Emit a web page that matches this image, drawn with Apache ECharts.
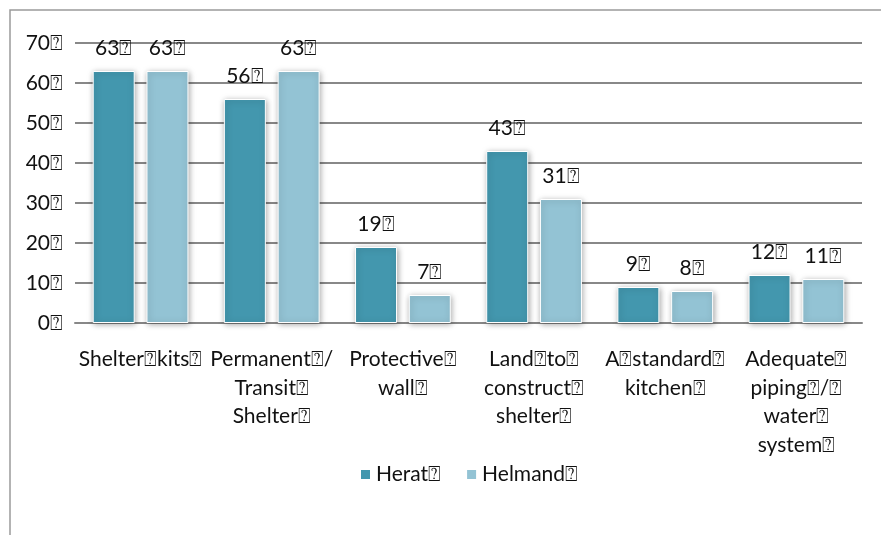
<!DOCTYPE html>
<html><head><meta charset="utf-8">
<script src="https://cdn.jsdelivr.net/npm/echarts@6/dist/echarts.min.js"></script>
<style>html,body{margin:0;padding:0;background:#fff}#c{width:881px;height:535px}</style>
</head><body><div id="c"></div>
<script>
const B = '\u2370';
const categories = ['Shelter'+B+'kits'+B, 'Permanent'+B+'/\nTransit'+B+'\nShelter'+B, 'Protective'+B+'\nwall'+B, 'Land'+B+'to'+B+'\nconstruct'+B+'\nshelter'+B, 'A'+B+'standard'+B+'\nkitchen'+B, 'Adequate'+B+'\npiping'+B+'/'+B+'\nwater'+B+'\nsystem'+B];
const seriesNames = ['Herat', 'Helmand'];
const herat = [63, 56, 19, 43, 9, 12];
const helmand = [63, 63, 7, 31, 8, 11];
const yTicks = [0, 10, 20, 30, 40, 50, 60, 70];

const font = 'Lato, "Open Sans", sans-serif';
const FS = 21;
const chart = echarts.init(document.getElementById('c'));
const labelCfg = {show:true, position:'top', distance:12, color:'#111', fontSize:FS, fontFamily:font, formatter: p => p.value + B};
function mk(name, data, color){
  return {name: name + B, type:'bar', data, barWidth:42, barGap:'28%',
    itemStyle:{color, borderColor:'#fff', borderWidth:1, shadowBlur:6, shadowColor:'rgba(0,0,0,0.35)', shadowOffsetX:1, shadowOffsetY:1},
    label: labelCfg};
}
chart.setOption({
  animation:false,
  graphic:[{type:'rect', shape:{x:10, y:10, width:880, height:540}, style:{fill:'none', stroke:'#9a9a9a', lineWidth:1.5}, silent:true}],
  grid:{left:75, right:19, top:43, bottom:212, containLabel:false},
  legend:{bottom:45, left:354, itemWidth:11, itemHeight:11, itemGap:24, icon:'rect',
    textStyle:{fontSize:FS, fontFamily:font, color:'#111'}, data:seriesNames.map(n=>n+B)},
  xAxis:{type:'category', data:categories, axisTick:{show:false},
    axisLine:{lineStyle:{color:'#888', width:2}},
    axisLabel:{interval:0, margin:22, fontSize:FS, fontFamily:font, color:'#111', lineHeight:28.5}},
  yAxis:{type:'value', min:yTicks[0], max:yTicks[yTicks.length-1], interval:10,
    axisLine:{show:false}, axisTick:{show:false},
    splitLine:{lineStyle:{color:'#888', width:2}},
    axisLabel:{margin:12, fontSize:FS, fontFamily:font, color:'#111', formatter: v => v + B}},
  series:[mk(seriesNames[0], herat, '#4397ae'), mk(seriesNames[1], helmand, '#93c3d4')]
});
</script></body></html>
